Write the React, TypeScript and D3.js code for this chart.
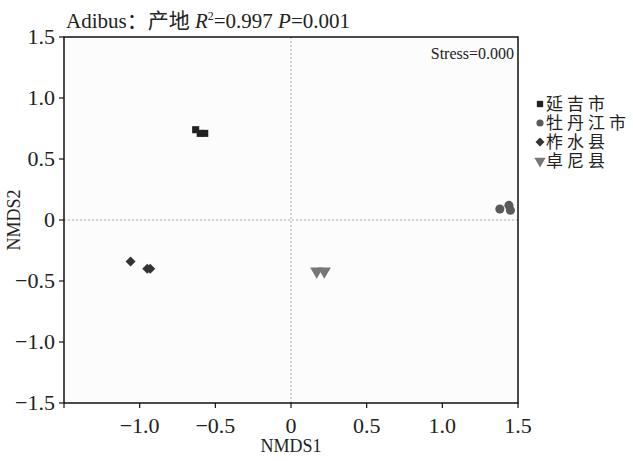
import * as d3 from 'd3'

const groups = ['延吉市', '牡丹江市', '柞水县', '卓尼县']
const groupColors = ['#222222', '#5a5a5a', '#333333', '#777777']
const groupShapes = [d3.symbolSquare, d3.symbolCircle, d3.symbolSquare, d3.symbolTriangle]
const groupRotate = [0, 0, 45, 180]

const nmds1 = [-0.63, -0.60, -0.57, 1.38, 1.44, 1.45, -1.06, -0.95, -0.93, 0.17, 0.22]
const nmds2 = [0.74, 0.71, 0.71, 0.09, 0.12, 0.08, -0.34, -0.40, -0.40, -0.42, -0.42]
const site = [0, 0, 0, 1, 1, 1, 2, 2, 2, 3, 3]

const ticks = [-1.5, -1.0, -0.5, 0, 0.5, 1.0, 1.5]
const tickLabel = (v: number) => (v === 0 ? '0' : v.toFixed(1).replace('-', '−'))

const font = '"Liberation Serif", "Noto Sans CJK SC", serif'
const left = 64, right = 518, top = 37, bottom = 403

const App = () => {
  const x = d3.scaleLinear().domain([-1.5, 1.5]).range([left, right])
  const y = d3.scaleLinear().domain([-1.5, 1.5]).range([bottom, top])
  const ink = '#222'

  return (
    <svg width={633} height={461} style={{ position: 'absolute', left: 0, top: 0, background: '#fff' }}
      fontFamily={font} fill={ink}>
      <rect x={left} y={top} width={right - left} height={bottom - top} fill="#fcfcfc" />

      {/* zero lines */}
      <line x1={x(0)} x2={x(0)} y1={top} y2={bottom} stroke="#aaa" strokeDasharray="2,2" />
      <line x1={left} x2={right} y1={y(0)} y2={y(0)} stroke="#aaa" strokeDasharray="2,2" />

      {/* frame */}
      <path d={`M${left},${bottom}V${top}H${right}V${bottom}H${left}`} fill="none" stroke="#111" strokeWidth={1.5} />

      {/* x axis */}
      {ticks.map(t => (
        <g key={'x' + t} transform={`translate(${x(t)},${bottom})`}>
          <line y2={5} stroke="#111" strokeWidth={1.2} />
          {t !== -1.5 && <text y={30} textAnchor="middle" fontSize={22}>{tickLabel(t)}</text>}
        </g>
      ))}
      {/* y axis */}
      {ticks.map(t => (
        <g key={'y' + t} transform={`translate(${left},${y(t)})`}>
          <line x2={-5} stroke="#111" strokeWidth={1.2} />
          <text x={-9} y={7} textAnchor="end" fontSize={22}>{tickLabel(t)}</text>
        </g>
      ))}

      {/* points */}
      {nmds1.map((v, i) => (
        <path key={i}
          d={d3.symbol().type(groupShapes[site[i]]).size(site[i] === 3 ? 75 : site[i] === 1 ? 65 : 50)() || ''}
          transform={`translate(${x(v)},${y(nmds2[i])}) rotate(${groupRotate[site[i]]})`}
          fill={groupColors[site[i]]} />
      ))}

      {/* title */}
      <text x={66} y={28} fontSize={21}>
        <tspan>Adibus：产地 </tspan>
        <tspan fontStyle="italic">R</tspan>
        <tspan fontSize={12} dy={-8}>2</tspan>
        <tspan dy={8}>=0.997 </tspan>
        <tspan fontStyle="italic">P</tspan>
        <tspan>=0.001</tspan>
      </text>
      <text x={514} y={59} textAnchor="end" fontSize={16}>Stress=0.000</text>

      {/* axis titles */}
      <text x={x(0)} y={452} textAnchor="middle" fontSize={18}>NMDS1</text>
      <text transform={`translate(20,${y(0)}) rotate(-90)`} textAnchor="middle" fontSize={18}>NMDS2</text>

      {/* legend */}
      {groups.map((g, i) => (
        <g key={g} transform={`translate(540,${104 + i * 19})`}>
          <path d={d3.symbol().type(groupShapes[i]).size(i === 3 ? 55 : 40)() || ''}
            transform={`rotate(${groupRotate[i]})`} fill={groupColors[i]} />
          <text x={6} y={6} fontSize={17} letterSpacing={4}>{g}</text>
        </g>
      ))}
    </svg>
  )
}

export default App
